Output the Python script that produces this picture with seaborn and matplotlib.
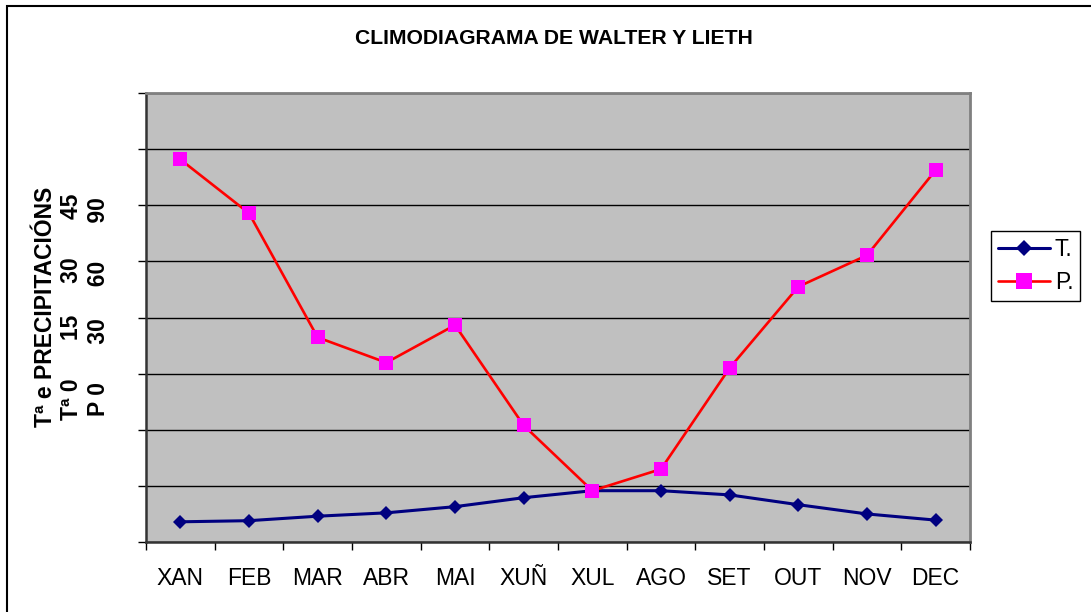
import matplotlib
matplotlib.use("Agg")
import matplotlib.pyplot as plt
import seaborn as sns
import pandas as pd
from matplotlib.patches import Rectangle

# ---- data ----
meses = ["XAN", "FEB", "MAR", "ABR", "MAI", "XUÑ", "XUL", "AGO", "SET", "OUT", "NOV", "DEC"]
temperatura = [7.1, 7.5, 9.1, 10.3, 12.5, 15.7, 18.2, 18.2, 16.7, 13.2, 9.9, 7.7]
precipitacion = [136.4, 117.2, 72.9, 63.9, 77.3, 41.5, 18.2, 25.9, 62.0, 91.0, 102.2, 132.6]
titulo = "CLIMODIAGRAMA DE WALTER Y LIETH"
etiqueta_y = "Tª e PRECIPITACIÓNS\nTª 0      15     30      45\nP 0      30     60      90"
serie_t = "T."
serie_p = "P."

df = pd.DataFrame({"mes": meses, "T": temperatura, "P": precipitacion})

sns.set_theme(style="white")
plt.rcParams["font.family"] = ["Liberation Sans", "DejaVu Sans"]
plt.rcParams["text.color"] = "#000000"
plt.rcParams["xtick.labelcolor"] = "#000000"
plt.rcParams["ytick.labelcolor"] = "#000000"

fig = plt.figure(figsize=(10.91, 6.12), dpi=100)
ax = fig.add_axes([146 / 1091, 1 - 541.7 / 612, 824 / 1091, (541.7 - 93.3) / 612])
ax.set_facecolor("#C0C0C0")

sns.lineplot(data=df, x="mes", y="T", ax=ax, color="#000080", linewidth=2.2,
             marker="D", markersize=7.2, markeredgewidth=0, markerfacecolor="#000080",
             label=serie_t, sort=False, zorder=3)
sns.lineplot(data=df, x="mes", y="P", ax=ax, color="#FF0000", linewidth=1.9,
             marker="s", markersize=10.5, markeredgewidth=0, markerfacecolor="#FF00FF",
             label=serie_p, sort=False, zorder=4)

ax.set_xlim(-0.5, 11.5)
ax.set_ylim(0, 160)
ax.set_yticks(range(0, 161, 20))
ax.set_yticklabels([])
ax.grid(axis="y", color="#000000", linewidth=1.0)
ax.grid(axis="x", visible=False)
ax.set_axisbelow(True)

ax.set_xticks(range(len(meses)))
ax.set_xticklabels(meses, fontsize=16.5, color="#000000")
ax.set_xticks([i - 0.5 for i in range(len(meses) + 1)], minor=True)
ax.tick_params(axis="x", which="major", length=0, pad=18)
ax.tick_params(axis="x", which="minor", length=6, width=1, color="#000000", direction="out", bottom=True)
ax.tick_params(axis="y", which="major", length=6, width=1, color="#000000", direction="out", left=True)
ax.set_xlabel("")
ax.set_ylabel("")

for side in ["top", "right"]:
    ax.spines[side].set_color("#808080")
    ax.spines[side].set_linewidth(2)
for side in ["left", "bottom"]:
    ax.spines[side].set_color("#333333")
    ax.spines[side].set_linewidth(1.8)

fig.text(553.5 / 1091, 1 - 38 / 612, titulo, ha="center", va="center",
         fontsize=15.2, fontweight="bold", color="#000000")
fig.text(72 / 1091, 1 - 307 / 612, etiqueta_y, rotation=90, ha="center", va="center",
         multialignment="center", fontsize=16.5, fontweight="bold", linespacing=1.2,
         color="#000000")

leg = ax.legend(loc="upper left", bbox_to_anchor=(990.7 / 1091, 1 - 231 / 612),
                bbox_transform=fig.transFigure, fontsize=16.5, frameon=True,
                fancybox=False, framealpha=1, edgecolor="#000000", handlelength=2.3,
                handletextpad=0.2, labelspacing=0.45, borderpad=0.3, borderaxespad=0,
                markerscale=1.1)
leg.get_frame().set_linewidth(1.0)
for t in leg.get_texts():
    t.set_color("#000000")

fig.patches.append(Rectangle((7 / 1091, -0.1), 1.2, 1 - 6 / 612 + 0.1,
                             transform=fig.transFigure, fill=False,
                             edgecolor="#000000", linewidth=1.5))

fig.savefig("out.png", dpi=100)
